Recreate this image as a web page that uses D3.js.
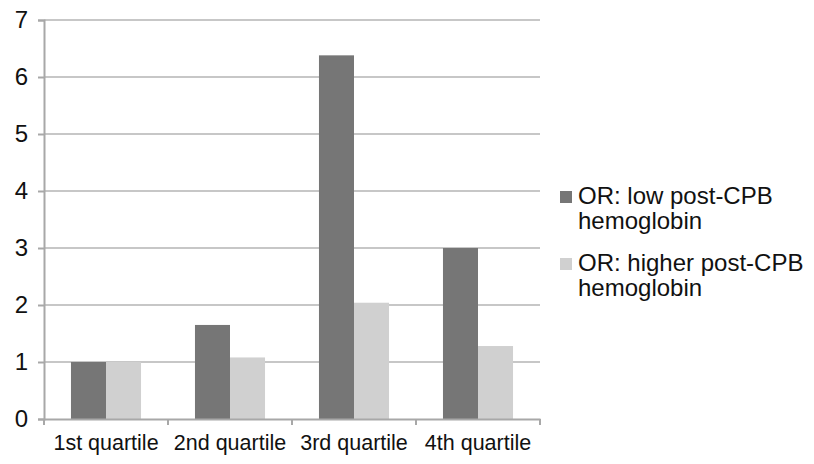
<!DOCTYPE html>
<html>
<head>
<meta charset="utf-8">
<script src="https://cdn.jsdelivr.net/npm/d3@7"></script>
<style>
  html, body { margin: 0; padding: 0; background: #fff; }
  svg { display: block; font-family: "Liberation Sans", Arial, sans-serif; }
</style>
</head>
<body>
<svg id="chart" width="814" height="464"></svg>
<script>
const categories = ["1st quartile", "2nd quartile", "3rd quartile", "4th quartile"];
const seriesNames = ["OR: low post-CPB hemoglobin", "OR: higher post-CPB hemoglobin"];
const legendLines = [["OR: low post-CPB", "hemoglobin"], ["OR: higher post-CPB", "hemoglobin"]];
const lowHb = [1.0, 1.65, 6.38, 3.0];
const higherHb = [1.0, 1.08, 2.04, 1.28];
const yTicks = [0, 1, 2, 3, 4, 5, 6, 7];
const colors = ["#767676", "#d0d0d0"];

const svg = d3.select("#chart");
const plotL = 44, plotR = 540, plotT = 20, plotB = 419;

const x0 = d3.scaleBand().domain(categories).range([plotL, plotR])
  .paddingInner(0.435).paddingOuter(0.2175);
const x1 = d3.scaleBand().domain([0, 1]).range([0, x0.bandwidth()]);
const y = d3.scaleLinear().domain([0, 7]).range([plotB, plotT]);

// gridlines
svg.append("g").selectAll("line").data(yTicks.filter(d => d > 0)).join("line")
  .attr("x1", plotL).attr("x2", plotR)
  .attr("y1", d => y(d)).attr("y2", d => y(d))
  .attr("stroke", "#b4b4b4").attr("stroke-width", 1.6);

// bars
const data = categories.map((c, i) => ({ c, vals: [lowHb[i], higherHb[i]] }));
const groups = svg.append("g").selectAll("g").data(data).join("g")
  .attr("transform", d => `translate(${x0(d.c)},0)`);
groups.selectAll("rect").data(d => d.vals.map((v, k) => ({ v, k }))).join("rect")
  .attr("x", d => x1(d.k))
  .attr("width", x1.bandwidth())
  .attr("y", d => y(d.v))
  .attr("height", d => y(0) - y(d.v))
  .attr("fill", d => colors[d.k]);

// y axis
const yAxis = d3.axisLeft(y).tickValues(yTicks).tickSize(6).tickPadding(10).tickFormat(d3.format("d"));
const gy = svg.append("g").attr("transform", `translate(${plotL},0)`).call(yAxis);
gy.select(".domain").attr("stroke", "#a8a8a8").attr("stroke-width", 2);
gy.selectAll(".tick line").attr("stroke", "#a8a8a8").attr("stroke-width", 2);
gy.selectAll(".tick text").attr("font-size", 24).attr("fill", "#111")
  .attr("font-family", "Liberation Sans, Arial, sans-serif");

// x axis
const xAxis = d3.axisBottom(x0).tickSize(0).tickPadding(16);
const gx = svg.append("g").attr("transform", `translate(0,${plotB})`).call(xAxis);
gx.select(".domain").attr("stroke", "#a8a8a8").attr("stroke-width", 2);
gx.selectAll(".tick text").attr("font-size", 21.5).attr("fill", "#111")
  .attr("font-family", "Liberation Sans, Arial, sans-serif");
// category boundary ticks
const bounds = d3.range(categories.length + 1).map(i => plotL + i * x0.step());
gx.append("g").selectAll("line").data(bounds).join("line")
  .attr("x1", d => d).attr("x2", d => d).attr("y1", 0).attr("y2", 6)
  .attr("stroke", "#a8a8a8").attr("stroke-width", 2);

// legend
const legend = svg.append("g");
const legY = [191, 258];
seriesNames.forEach((name, i) => {
  const g = legend.append("g").attr("transform", `translate(560,${legY[i]})`);
  g.append("rect").attr("width", 12).attr("height", 12).attr("fill", colors[i]);
  const t = g.append("text").attr("x", 18).attr("y", 13)
    .attr("font-size", 24).attr("fill", "#111");
  legendLines[i].forEach((ln, j) => {
    t.append("tspan").attr("x", 18).attr("dy", j === 0 ? 0 : 25).text(ln);
  });
});
</script>
</body>
</html>
